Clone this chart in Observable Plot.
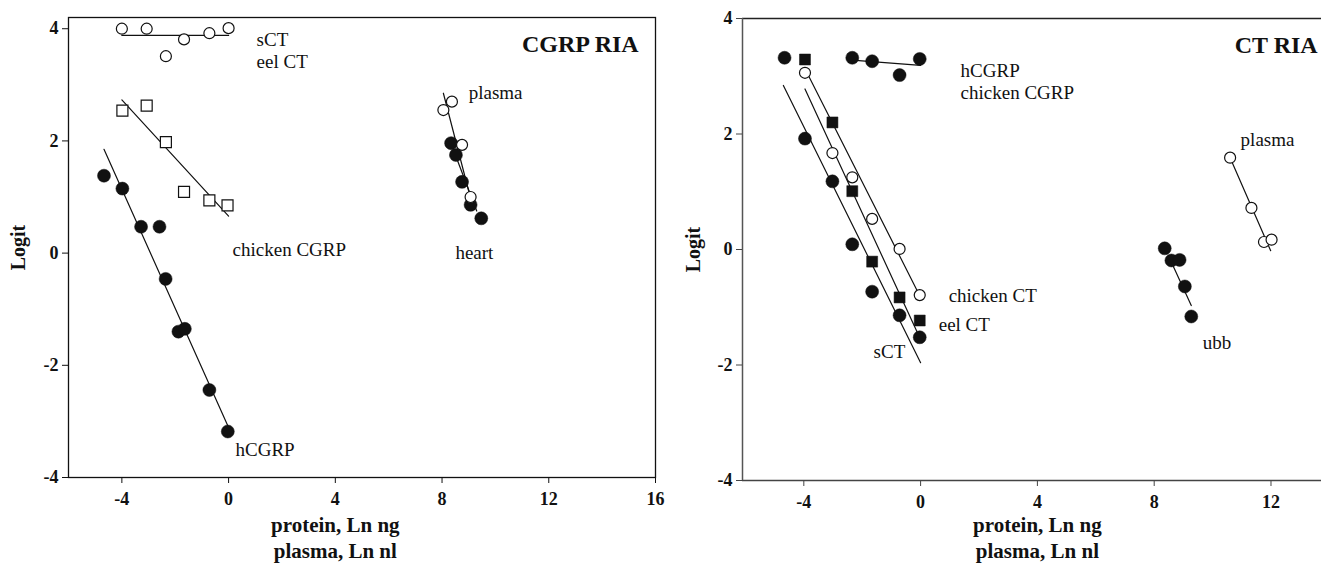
<!DOCTYPE html>
<html><head><meta charset="utf-8">
<script src="https://cdn.jsdelivr.net/npm/d3@7"></script>
<script src="https://cdn.jsdelivr.net/npm/@observablehq/plot@0.6"></script>
<style>
body{margin:0;background:#fff;}
#wrap{position:relative;width:1321px;height:566px;overflow:hidden;background:#fff;}
#left,#right{position:absolute;top:0;}
#left{left:0;} #right{left:680px;}
</style></head><body><div id="wrap"><div id="left"></div><div id="right"></div></div>
<script>
// ---------- Left panel: CGRP RIA ----------
const xTicksL = [-4, 0, 4, 8, 12, 16];
const yTicks = [-4, -2, 0, 2, 4];
const sctEelX = [-4, -3.07, -2.35, -1.67, -0.72, 0];
const sctEelY = [4.0, 4.0, 3.51, 3.81, 3.92, 4.01];
const chkCGRPX = [-3.98, -3.07, -2.35, -1.67, -0.72, -0.04];
const chkCGRPY = [2.54, 2.63, 1.98, 1.09, 0.94, 0.85];
const hCGRPX = [-4.67, -3.98, -3.28, -2.59, -2.36, -1.88, -1.64, -0.72, -0.03];
const hCGRPY = [1.38, 1.15, 0.47, 0.47, -0.46, -1.40, -1.35, -2.44, -3.18];
const plasmaLX = [8.05, 8.37, 8.75, 9.07];
const plasmaLY = [2.55, 2.70, 1.93, 1.00];
const heartX = [8.34, 8.52, 8.75, 9.07, 9.47];
const heartY = [1.96, 1.75, 1.27, 0.86, 0.62];
// fitted lines (endpoints)
const sctEelLineX = [-4, 0], sctEelLineY = [3.88, 3.88];
const chkCGRPLineX = [-4, 0], chkCGRPLineY = [2.73, 0.66];
const hCGRPLineX = [-4.67, 0], hCGRPLineY = [1.85, -3.11];
const plasmaLLineX = [8.05, 9.1], plasmaLLineY = [2.85, 0.92];
const heartLineX = [8.3, 9.3], heartLineY = [2.0, 0.75];
const labelTextL = ["sCT", "eel CT", "chicken CGRP", "heart", "plasma", "hCGRP"];
const labelXL = [1.05, 1.05, 0.15, 8.5, 9.0, 0.26];
const labelYL = [3.8, 3.4, 0.05, 0.0, 2.85, -3.51];

// ---------- Right panel: CT RIA ----------
const xTicksR = [-4, 0, 4, 8, 12];
const topGrpX = [-4.66, -2.34, -1.66, -0.72, -0.03];
const topGrpY = [3.32, 3.32, 3.26, 3.02, 3.30];
const eelX = [-3.96, -3.02, -2.34, -1.66, -0.72, -0.03];
const eelY = [3.29, 2.20, 1.01, -0.21, -0.83, -1.23];
const chkCTX = [-3.96, -3.02, -2.34, -1.66, -0.72, -0.03];
const chkCTY = [3.06, 1.67, 1.25, 0.53, 0.01, -0.79];
const sctX = [-3.96, -3.02, -2.34, -1.66, -0.72, -0.03];
const sctY = [1.92, 1.18, 0.09, -0.73, -1.14, -1.52];
const plasmaRX = [10.6, 11.33, 11.76, 12.02];
const plasmaRY = [1.59, 0.72, 0.13, 0.17];
const ubbX = [8.36, 8.59, 8.87, 9.05, 9.27];
const ubbY = [0.02, -0.19, -0.18, -0.64, -1.16];
const topLineX = [-2.34, 0], topLineY = [3.28, 3.19];
const chkCTLineX = [-3.96, 0], chkCTLineY = [3.13, -0.83];
const eelLineX = [-3.96, -0.1], eelLineY = [2.78, -1.45];
const sctLineX = [-4.7, 0], sctLineY = [2.84, -1.96];
const plasmaRLineX = [10.6, 11.99], plasmaRLineY = [1.59, -0.02];
const ubbLineX = [8.59, 9.27], ubbLineY = [-0.22, -0.97];
const labelTextR = ["hCGRP", "chicken CGRP", "plasma", "chicken CT", "eel CT", "sCT", "ubb"];
const labelXR = [1.37, 1.37, 10.96, 0.96, 0.62, -1.61, 9.66];
const labelYR = [3.10, 2.72, 1.89, -0.81, -1.30, -1.78, -1.61];

const xLabel = "protein, Ln ng\nplasma, Ln nl";
const serif = "Liberation Serif, Times New Roman, serif";

const pts = (xs, ys) => xs.map((x, i) => ({x, y: ys[i]}));
const labs = (ts, xs, ys) => ts.map((t, i) => ({t, x: xs[i], y: ys[i]}));
const ln = (xs, ys) => Plot.line(pts(xs, ys), {x: "x", y: "y", stroke: "#111", strokeWidth: 1.2});
const filled = (xs, ys) => Plot.dot(pts(xs, ys), {x: "x", y: "y", r: 6.5, fill: "#111", stroke: "#111", strokeWidth: 0.5});
const open = (xs, ys) => Plot.dot(pts(xs, ys), {x: "x", y: "y", r: 5.5, fill: "white", stroke: "#111", strokeWidth: 1.2});
const fmt = d => String(d);

const commonAxes = (xt, color) => [
  Plot.axisX({ticks: xt, tickSize: 6, tickFormat: () => "", label: null, stroke: color}),
  Plot.axisY({ticks: yTicks, tickSize: 6, tickFormat: () => "", label: null, stroke: color}),
  Plot.text(xt, {x: d => d, text: fmt, frameAnchor: "bottom", lineAnchor: "top", dy: 15, fontSize: 18, fontWeight: "bold", fill: "#111"}),
  Plot.text(yTicks, {y: d => d, text: fmt, frameAnchor: "left", textAnchor: "end", dx: -10, fontSize: 18, fontWeight: "bold", fill: "#111"})
];

const left = Plot.plot({
  width: 680, height: 566,
  marginLeft: 68, marginRight: 25, marginTop: 17, marginBottom: 89,
  x: {domain: [-6, 16]}, y: {domain: [-4, 4.2]},
  style: {fontFamily: serif, background: "white", color: "#111"},
  marks: [
    Plot.frame({stroke: "#111", strokeWidth: 1.3}),
    ...commonAxes(xTicksL, "#111"),
    ln(sctEelLineX, sctEelLineY), ln(chkCGRPLineX, chkCGRPLineY), ln(hCGRPLineX, hCGRPLineY),
    ln(plasmaLLineX, plasmaLLineY), ln(heartLineX, heartLineY),
    open(sctEelX, sctEelY),
    Plot.dot(pts(chkCGRPX, chkCGRPY), {x: "x", y: "y", symbol: "square", r: 6.2, fill: "white", stroke: "#111", strokeWidth: 1.2}),
    filled(hCGRPX, hCGRPY),
    filled(heartX, heartY),
    open(plasmaLX, plasmaLY),
    Plot.text(labs(labelTextL, labelXL, labelYL), {x: "x", y: "y", text: "t", textAnchor: "start", fontSize: 19, fill: "#111"}),
    Plot.text(["CGRP RIA"], {x: 15.37, y: 3.72, textAnchor: "end", fontSize: 24, fontWeight: "bold", fill: "#111"}),
    Plot.text(["Logit"], {frameAnchor: "left", dx: -50, rotate: -90, textAnchor: "middle", fontSize: 20, fontWeight: "bold", fill: "#111"}),
    Plot.text([{x: 4}], {x: "x", frameAnchor: "bottom", text: () => xLabel, lineAnchor: "top", dy: 36, lineHeight: 1.25, fontSize: 21, fontWeight: "bold", fill: "#111"})
  ]
});
document.getElementById("left").appendChild(left);

const right = Plot.plot({
  width: 641, height: 566,
  marginLeft: 62, marginRight: 0, marginTop: 18, marginBottom: 86,
  x: {domain: [-6.1, 13.73]}, y: {domain: [-4, 4]},
  style: {fontFamily: serif, background: "white", color: "#111"},
  marks: [
    Plot.ruleY([4], {stroke: "#222", strokeWidth: 1.3}),
    Plot.ruleY([-4], {stroke: "#444", strokeWidth: 1.5}),
    Plot.ruleX([-6.1], {stroke: "#555", strokeWidth: 1.5}),
    ...commonAxes(xTicksR, "#444"),
    ln(topLineX, topLineY), ln(chkCTLineX, chkCTLineY), ln(eelLineX, eelLineY), ln(sctLineX, sctLineY),
    ln(plasmaRLineX, plasmaRLineY), ln(ubbLineX, ubbLineY),
    filled(topGrpX, topGrpY),
    filled(sctX, sctY),
    open(chkCTX, chkCTY),
    Plot.dot(pts(eelX, eelY), {x: "x", y: "y", symbol: "square", r: 6.2, fill: "#111", stroke: "#111", strokeWidth: 0.5}),
    filled(ubbX, ubbY),
    open(plasmaRX, plasmaRY),
    Plot.text(labs(labelTextR, labelXR, labelYR), {x: "x", y: "y", text: "t", textAnchor: "start", fontSize: 19, fill: "#111"}),
    Plot.text(["CT RIA"], {x: 13.6, y: 3.53, textAnchor: "end", fontSize: 24, fontWeight: "bold", fill: "#111"}),
    Plot.text(["Logit"], {frameAnchor: "left", dx: -49, rotate: -90, textAnchor: "middle", fontSize: 20, fontWeight: "bold", fill: "#111"}),
    Plot.text([{x: 4}], {x: "x", frameAnchor: "bottom", text: () => xLabel, lineAnchor: "top", dy: 33, lineHeight: 1.25, fontSize: 21, fontWeight: "bold", fill: "#111"})
  ]
});
document.getElementById("right").appendChild(right);
</script>
</body></html>
